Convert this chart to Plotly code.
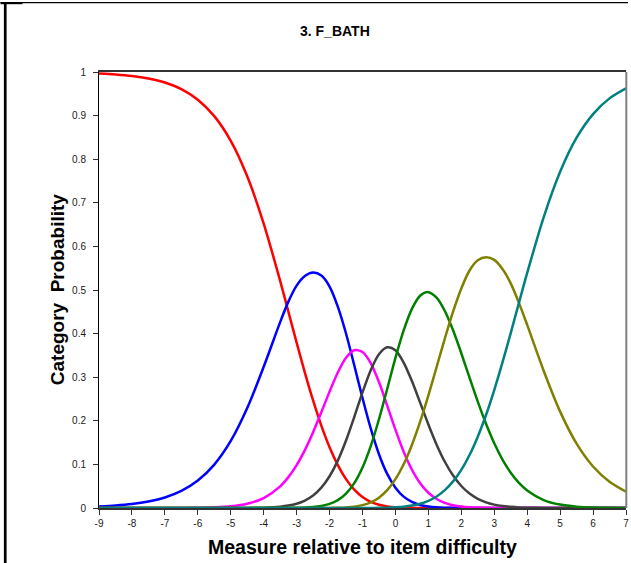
import plotly.graph_objects as go

# Measure relative to item difficulty (logits)
measure = [-9, -8.5, -8, -7.5, -7, -6.5, -6, -5.5, -5, -4.5, -4, -3.5,
           -3.25, -3, -2.75, -2.5, -2.25, -2, -1.75, -1.5, -1.25, -1, -0.75, -0.5, -0.25,
           0, 0.25, 0.5, 0.75, 1, 1.25, 1.5, 1.75, 2, 2.25, 2.5, 2.75, 3, 3.25, 3.5, 3.75,
           4, 4.5, 5, 5.5, 6, 6.5, 7]

cat_red = [0.9967, 0.9945, 0.9910, 0.9852, 0.9758, 0.9606, 0.9365, 0.8988, 0.8421, 0.7608, 0.6523, 0.5208,
           0.4502, 0.3793, 0.3106, 0.2466, 0.1890, 0.1394, 0.0984, 0.0662, 0.0421, 0.0253, 0.0142, 0.0075, 0.0037,
           0.0017, 0.0007, 0.0003, 0.0001, 0, 0, 0, 0, 0, 0, 0, 0, 0, 0, 0, 0,
           0, 0, 0, 0, 0, 0, 0]
cat_blue = [0.0033, 0.0055, 0.0090, 0.0148, 0.0241, 0.0392, 0.0629, 0.0996, 0.1538, 0.2292, 0.3239, 0.4264,
            0.4733, 0.5100, 0.5320, 0.5400, 0.5330, 0.5080, 0.4620, 0.4003, 0.3273, 0.2522, 0.1824, 0.1234, 0.0782,
            0.0466, 0.0260, 0.0138, 0.0069, 0.0033, 0.0015, 0.0007, 0.0003, 0.0001, 0, 0, 0, 0, 0, 0, 0,
            0, 0, 0, 0, 0, 0, 0]
cat_magenta = [0, 0, 0, 0, 0.0001, 0.0002, 0.0006, 0.0016, 0.0040, 0.0098, 0.0229, 0.0497,
               0.0708, 0.0983, 0.1328, 0.1737, 0.2196, 0.2669, 0.3107, 0.3445, 0.3618, 0.3579, 0.3323, 0.2888, 0.2350,
               0.1797, 0.1290, 0.0877, 0.0567, 0.0350, 0.0207, 0.0117, 0.0064, 0.0034, 0.0017, 0.0009, 0.0004, 0.0002,
               0.0001, 0, 0,
               0, 0, 0, 0, 0, 0, 0]
cat_black = [0, 0, 0, 0, 0, 0, 0, 0, 0.0001, 0.0002, 0.0008, 0.0030,
             0.0055, 0.0099, 0.0171, 0.0287, 0.0466, 0.0728, 0.1087, 0.1548, 0.2087, 0.2652, 0.3161, 0.3527, 0.3685,
             0.3618, 0.3335, 0.2912, 0.2417, 0.1915, 0.1453, 0.1060, 0.0744, 0.0505, 0.0331, 0.0210, 0.0130, 0.0078,
             0.0045, 0.0026, 0.0014,
             0.0008, 0.0002, 0.0001, 0, 0, 0, 0]
cat_green = [0, 0, 0, 0, 0, 0, 0, 0, 0, 0, 0, 0.0001,
             0.0002, 0.0005, 0.0010, 0.0022, 0.0047, 0.0094, 0.0180, 0.0329, 0.0569, 0.0928, 0.1420, 0.2035, 0.2730,
             0.3442, 0.4073, 0.4567, 0.4868, 0.4951, 0.4825, 0.4518, 0.4075, 0.3549, 0.2989, 0.2439, 0.1931, 0.1485,
             0.1111, 0.0810, 0.0576,
             0.0401, 0.0182, 0.0078, 0.0031, 0.0012, 0.0005, 0.0002]
cat_olive = [0, 0, 0, 0, 0, 0, 0, 0, 0, 0, 0, 0,
             0, 0, 0, 0, 0.0001, 0.0002, 0.0006, 0.0014, 0.0031, 0.0066, 0.0129, 0.0237, 0.0408,
             0.0661, 0.1004, 0.1446, 0.1979, 0.2585, 0.3234, 0.3888, 0.4504, 0.5036, 0.5447, 0.5680, 0.5750, 0.5690,
             0.5480, 0.5152, 0.4705,
             0.4199, 0.3149, 0.2210, 0.1476, 0.0952, 0.0601, 0.0373]
cat_teal = [0, 0, 0, 0, 0, 0, 0, 0, 0, 0, 0, 0,
            0, 0, 0, 0, 0, 0, 0, 0, 0, 0.0001, 0.0001, 0.0003, 0.0007,
            0.0016, 0.0030, 0.0056, 0.0099, 0.0165, 0.0265, 0.0410, 0.0610, 0.0875, 0.1215, 0.1635, 0.2134, 0.2706,
            0.3338, 0.4012, 0.4705,
            0.5392, 0.6667, 0.7712, 0.8493, 0.9035, 0.9395, 0.9625]

series = [
    ("0", cat_red, "#FF0000"),
    ("1", cat_blue, "#0000FF"),
    ("2", cat_magenta, "#FF00FF"),
    ("3", cat_black, "#404040"),
    ("4", cat_green, "#008000"),
    ("5", cat_olive, "#808000"),
    ("6", cat_teal, "#008080"),
]
for _n, _v, _c in series:
    assert len(_v) == len(measure), (_n, len(_v), len(measure))

x_ticks = list(range(-9, 8))
y_ticks = [0, 0.1, 0.2, 0.3, 0.4, 0.5, 0.6, 0.7, 0.8, 0.9, 1]

fig = go.Figure()
for name, vals, col in series:
    fig.add_trace(go.Scatter(x=measure, y=vals, mode="lines", name=name,
                             line=dict(color=col, width=2.5, shape="spline", smoothing=0.8),
                             showlegend=False, hoverinfo="x+y"))

W, H = 631, 563
L, R, T, B = 99, 2, 72, 55

def px(xp):
    return (xp - L) / (W - L - R)

def py(yp):
    return (H - B - yp) / (H - T - B)

fig.update_layout(
    width=W, height=H,
    margin=dict(l=L, r=R, t=T, b=B),
    paper_bgcolor="white", plot_bgcolor="white",
    font=dict(family="Liberation Sans, Arial, sans-serif", color="#1a1a1a"),
    xaxis=dict(range=[-9, 7], tickvals=x_ticks, ticktext=[str(v) for v in x_ticks],
               showgrid=False, zeroline=False, showline=True, linecolor="#333333", linewidth=1.5,
               mirror=True, ticks="outside", ticklen=5, tickcolor="#333333", tickwidth=1,
               ticklabeloverflow="allow",
               tickfont=dict(size=10, color="#1a1a1a")),
    yaxis=dict(range=[0, 1], tickvals=y_ticks, ticktext=[f"{v:g}" for v in y_ticks],
               showgrid=False, zeroline=False, showline=True, linecolor="black", linewidth=1,
               ticks="outside", ticklen=5, tickcolor="#333333", tickwidth=1,
               ticklabelstandoff=5,
               tickfont=dict(size=10, color="#1a1a1a")),
    annotations=[
        dict(text="<b>3. F_BATH</b>", xref="paper", yref="paper", x=px(336), y=py(31.5),
             xanchor="center", yanchor="middle", showarrow=False,
             font=dict(size=14, color="black")),
        dict(text="<b>Measure relative to item difficulty</b>", xref="paper", yref="paper",
             x=px(363.5), y=py(547), xanchor="center", yanchor="middle", showarrow=False,
             font=dict(size=19.5, color="black")),
        dict(text="<b>Category  Probability</b>", xref="paper", yref="paper",
             x=px(57), y=py(289), xanchor="center", yanchor="middle", showarrow=False,
             textangle=-90, font=dict(size=19, color="black")),
    ],
    shapes=[
        dict(type="line", xref="paper", yref="paper", x0=px(0), x1=px(631), y0=py(2.7), y1=py(2.7),
             line=dict(color="black", width=1.3)),
        dict(type="rect", xref="paper", yref="paper", x0=px(0), x1=px(22), y0=py(2), y1=py(4.2),
             line=dict(width=0), fillcolor="black"),
        dict(type="line", xref="paper", yref="paper", x0=px(4.7), x1=px(4.7), y0=py(2), y1=py(563),
             line=dict(color="black", width=2.7)),
        dict(type="line", xref="paper", yref="paper", x0=px(629.3), x1=px(629.3), y0=py(72), y1=py(508),
             line=dict(color="#7f7f7f", width=2)),
    ],
)

fig.write_html("out.html", config={"displayModeBar": False},
               post_script="document.body.style.margin='0';document.body.style.overflow='hidden';")
